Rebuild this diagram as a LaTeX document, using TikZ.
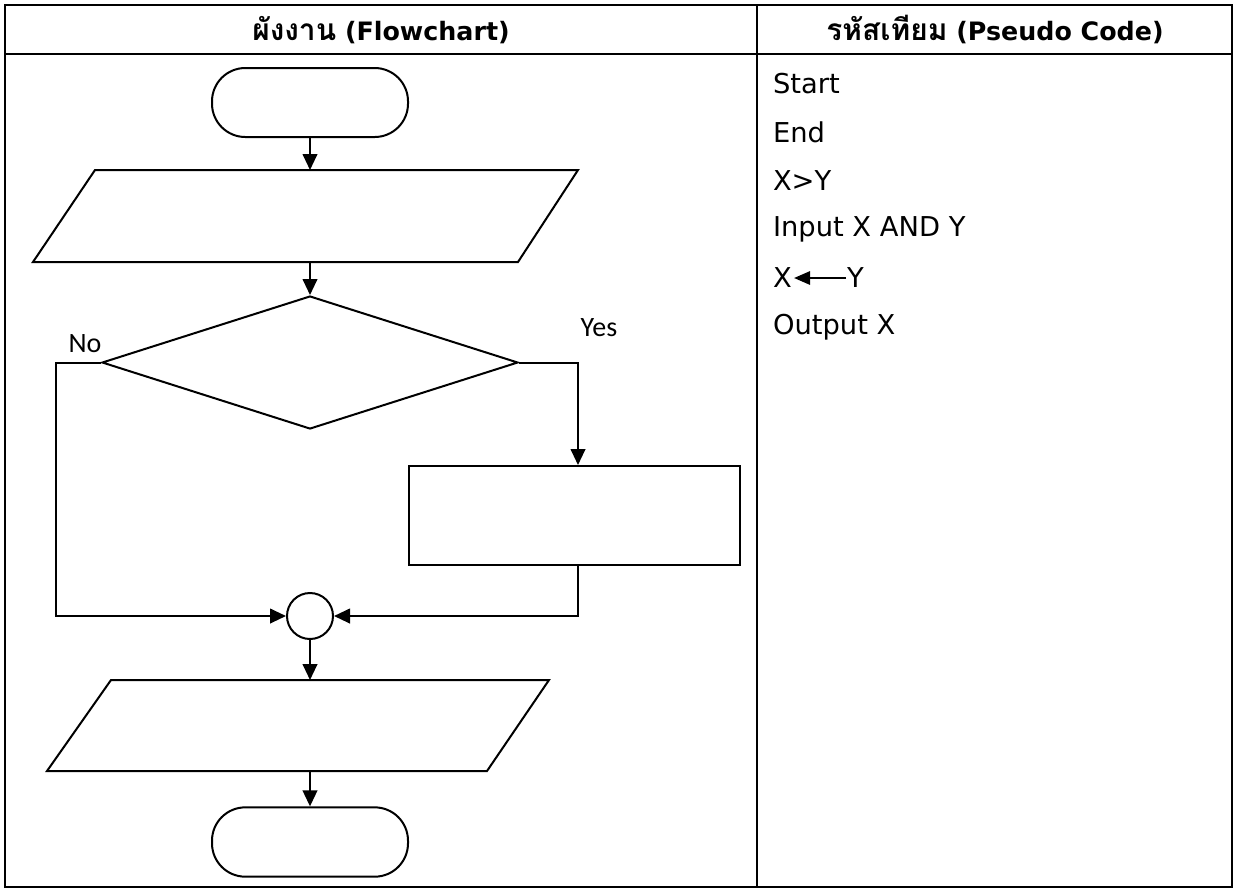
\documentclass[tikz,border=0pt]{standalone}
\usepackage{fontspec}
\setmainfont{DejaVu Sans}
\newfontfamily\thaifont[Script=Thai,Scale=1.18]{Loma}
\newfontfamily\labelfont{Carlito}
\usetikzlibrary{arrows.meta,shapes.geometric}
\begin{document}
\begin{tikzpicture}[x=0.75pt,y=-0.75pt,line width=1.5pt,
  grid/.style={draw,line width=1.6pt},
  flow/.style={draw,line width=1.5pt},
  conn/.style={-{Triangle[length=12pt,width=11pt]},line width=1.5pt},
  term/.style={draw,rectangle,rounded corners=25pt,minimum width=147pt,inner sep=0pt},
  head/.style={anchor=base,inner sep=0pt,font=\bfseries\fontsize{19pt}{23pt}\selectfont},
  code/.style={anchor=west,inner sep=0pt,font=\fontsize{20.5pt}{24pt}\selectfont},
  lab/.style={font=\labelfont\fontsize{21pt}{25pt}\selectfont,inner sep=0pt}]
\useasboundingbox (0,0) rectangle (1234,890);
% table
\draw[grid] (5,5) rectangle (1232,887);
\draw[grid] (5,54) -- (1232,54);
\draw[grid] (757,5) -- (757,887);
\node[head] (h1) at (381,40) {{\thaifont\bfseries ผังงาน} (Flowchart)};
\node[head] (h2) at (995,40) {{\thaifont\bfseries รหัสเทียม} (Pseudo Code)};
% pseudo code
\node[code] (p1) at (772,84) {Start};
\node[code] (p2) at (772,132) {End};
\node[code] (p3) at (772,181) {X>Y};
\node[code] (p4) at (772,229) {Input X AND Y};
\node[code] (p5x) at (772,278) {X};
\node[code] (p5y) at (846,278) {Y};
\node[code] (p6) at (772,327) {Output X};
\draw[-{Triangle[length=12pt,width=10pt]},line width=1.5pt] (p5y.west) -- ([xshift=1pt]p5x.east);
% flowchart
\node[term,minimum height=51.75pt] (start) at (310,102.5) {};
\draw[flow] (95,170) -- (578,170) -- (518,262) -- (33,262) -- cycle;
\coordinate (in1t) at (310,170);
\coordinate (in1b) at (310,262);
\node[diamond,draw,inner sep=0pt,minimum width=312pt,minimum height=99.75pt] (dec) at (310,362.5) {};
\node[draw,rectangle,inner sep=0pt,minimum width=248.25pt,minimum height=74.25pt] (proc) at (574.5,515.5) {};
\node[circle,draw,inner sep=0pt,minimum size=34.5pt] (cj) at (310,616) {};
\draw[flow] (111,680) -- (549,680) -- (487,771) -- (47,771) -- cycle;
\coordinate (in2t) at (310,680);
\coordinate (in2b) at (310,771);
\node[term,minimum height=52pt] (stop) at (310,842) {};
\coordinate (nox) at (56,362.5);
\coordinate (yesx) at (578,0);
% connectors
\draw[conn] (start.south) -- (in1t);
\draw[conn] (in1b) -- (dec.north);
\draw[conn] (dec.west) -- (nox) |- (cj.west);
\draw[conn] (dec.east) -| (proc.north -| yesx);
\draw[conn] (proc.south -| yesx) |- (cj.east);
\draw[conn] (cj.south) -- (in2t);
\draw[conn] (in2b) -- (stop.north);
% labels
\node[lab] (no) at (85,344) {No};
\node[lab] (yes) at (599,328) {Yes};
\end{tikzpicture}
\end{document}
